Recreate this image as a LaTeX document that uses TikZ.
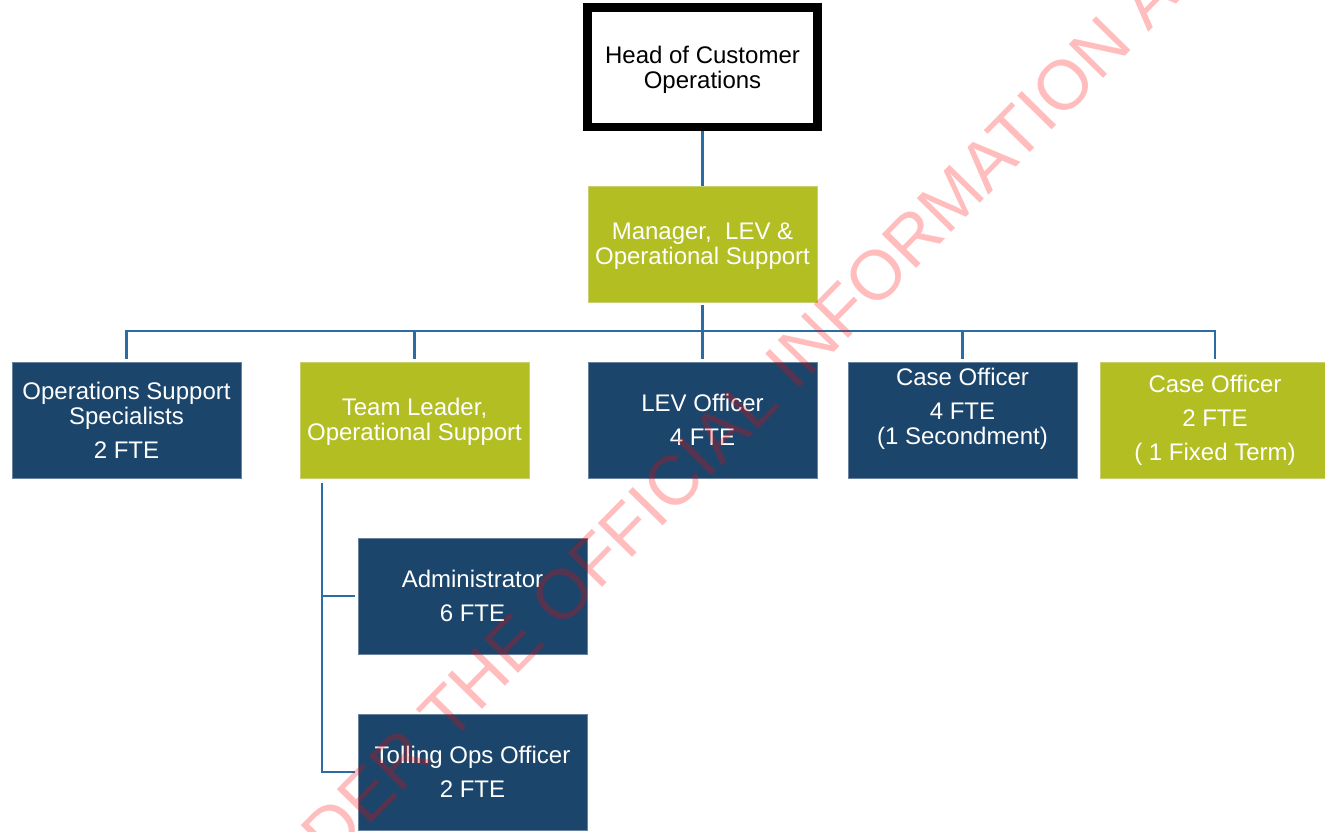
\documentclass[tikz,border=0pt]{standalone}
\usepackage{fontspec}
\setmainfont{Liberation Sans}
\definecolor{navy}{RGB}{27,69,107}
\definecolor{navyedge}{RGB}{105,130,158}
\definecolor{leaf}{RGB}{178,190,34}
\definecolor{leafedge}{RGB}{200,208,110}
\definecolor{wire}{RGB}{42,108,163}
\begin{document}
\begin{tikzpicture}[x=1pt,y=-1pt,
  orgbox/.style={rectangle, inner sep=0pt, minimum width=229pt, minimum height=116pt,
    align=center, font=\fontsize{24}{25}\selectfont, text=white},
  navybox/.style={orgbox, fill=navy, draw=navyedge, line width=0.8pt},
  greenbox/.style={orgbox, fill=leaf, draw=leafedge, line width=0.8pt},
  headbox/.style={orgbox, fill=white, draw=black, line width=8.5pt,
    minimum width=230pt, minimum height=119.5pt, text=black},
  boxtext/.style={inner sep=0pt, align=center, font=\fontsize{24}{25}\selectfont, text=white},
  conn/.style={draw=wire, line width=2.6pt},
  stamp/.style={anchor=base west, rotate=45.5, inner sep=0pt,
    font=\fontsize{70}{70}\selectfont, text=red, text opacity=0.26}
]
\useasboundingbox (0,0) rectangle (1325,831);
\fill[white] (0,0) rectangle (1325,831);
\begin{scope}
\clip (0,0) rectangle (1325,831);

% top of the tree
\node[headbox] (head) at (702.5,67.25) {};
\node[boxtext, text=black] (headt) at (702.5,70) {Head of Customer\\Operations};
\node[greenbox] (mgr) at (702.5,244) {};
\node[boxtext] (mgrt) at (702.5,246) {Manager,\ \ LEV \&\\Operational Support};

% second level
\node[navybox] (ops) at (126.5,420) {Operations Support\\Specialists\\[9pt]2 FTE};
\node[greenbox] (tl) at (414.5,420) {};
\node[boxtext] (tlt) at (414.5,422) {Team Leader,\\Operational Support};
\node[navybox] (lev) at (702.5,420) {LEV Officer\\[9pt]4 FTE};
\node[navybox] (c4) at (962.5,420) {};
\node[boxtext] (c4t) at (962.5,408.5) {Case Officer\\[9pt]4 FTE\\(1 Secondment)};
\node[greenbox] (c2) at (1215,420) {Case Officer\\[9pt]2 FTE\\[9pt]( 1 Fixed Term)};

% under the team leader
\node[navybox] (adm) at (472.5,596) {Administrator\\[9pt]6 FTE};
\node[navybox] (tol) at (472.5,772) {Tolling Ops Officer\\[9pt]2 FTE};

% connectors
\coordinate (bus) at (702.5,331);
\coordinate (spine) at (322,478);
\draw[conn] (head.south) -- (mgr.north);
\draw[conn, shorten <=3pt, shorten >=3pt] (mgr.south) -- (lev.north);
\draw[conn, shorten <=3pt, shorten >=3pt] (ops.north) |- (bus) -| (c2.north);
\draw[conn, shorten >=3pt] (tl.north |- bus) -- (tl.north);
\draw[conn, shorten >=3pt] (c4.north |- bus) -- (c4.north);
\draw[conn, shorten <=5pt, shorten >=3pt] (spine) |- (tol.west);
\draw[conn, shorten >=3pt] (spine |- adm.west) -- (adm.west);

% release stamp across the chart
\node[stamp] (release) at (-14.5,1216) {RELEASED UNDER THE OFFICIAL INFORMATION ACT};
\end{scope}
\end{tikzpicture}
\end{document}
